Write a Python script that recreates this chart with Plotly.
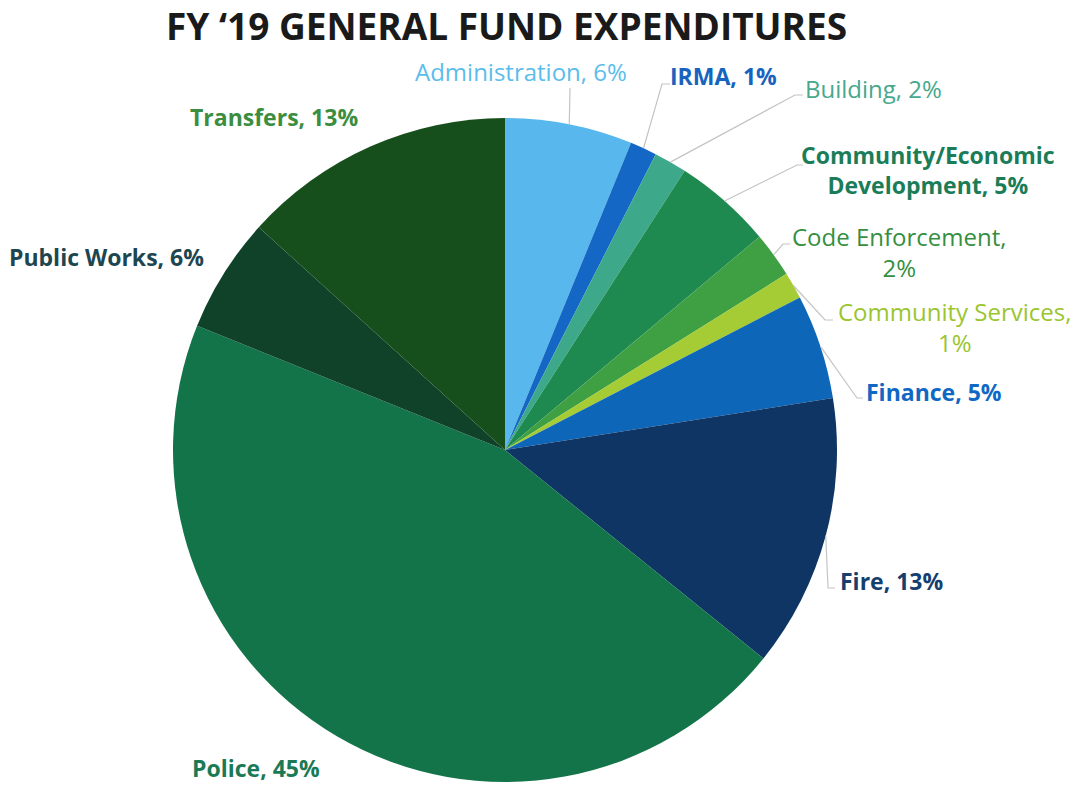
import math
import plotly.graph_objects as go

W, H = 1081, 785

# Expenditure shares by department, clockwise from 12 o'clock
categories = ["Administration", "IRMA", "Building", "Community/Economic Development",
              "Code Enforcement", "Community Services", "Finance", "Fire", "Police",
              "Public Works", "Transfers"]
values = [6.2, 1.3, 1.6, 4.8, 2.2, 1.3, 5.1, 13.3, 45.3, 5.6, 13.3]

slice_colors = ["#58B7EC", "#1467C5", "#3DA88A", "#1F8A50", "#3FA043", "#A5CB35",
                "#0D66B8", "#0E3563", "#137449", "#0F4229", "#174F1C"]
label_colors = ["#5BBDEB", "#1763C0", "#47A88E", "#1B7D58", "#358F3F", "#9AC531",
                "#1068C4", "#163E6E", "#1A7A55", "#1E4650", "#3A8E3E"]

title_text = "FY \u201819 GENERAL FUND EXPENDITURES"

# Pie geometry in pixels
CX, CY, R = 505, 450, 332

# Label placement: centre (px), bold, leader-line elbow and end (px) or None
label_layout = {
    "Administration": dict(pos=(521, 72), bold=False, leader=[(570, 88)]),
    "IRMA": dict(pos=(723, 76), bold=True, leader=[(662, 84), (670, 84)]),
    "Building": dict(pos=(874, 89), bold=False, leader=[(795, 95), (803, 95)]),
    "Community/Economic Development": dict(pos=(928, 170), bold=True,
                                           leader=[(797, 165), (803, 165)]),
    "Code Enforcement": dict(pos=(899, 252), bold=False, leader=[(783, 244), (790, 244)]),
    "Community Services": dict(pos=(954, 327), bold=False, leader=[(825, 320), (833, 320)]),
    "Finance": dict(pos=(934, 392), bold=True, leader=[(857, 398), (863, 398)]),
    "Fire": dict(pos=(892, 581), bold=True, leader=[(828, 588), (835, 588)]),
    "Police": dict(pos=(256, 768), bold=True, leader=None),
    "Public Works": dict(pos=(106, 257), bold=True, leader=None),
    "Transfers": dict(pos=(274, 117), bold=True, leader=None),
}

label_fmt = {
    "Community/Economic Development": "Community/Economic<br>Development, {p}%",
    "Code Enforcement": "Code Enforcement,<br>{p}%",
    "Community Services": "Community Services,<br>{p}%",
}


def px(x):
    return x / W


def py(y):
    return 1 - y / H


fig = go.Figure(go.Pie(
    labels=categories,
    values=values,
    sort=False,
    direction="clockwise",
    rotation=0,
    marker=dict(colors=slice_colors, line=dict(width=0)),
    textinfo="none",
    hoverinfo="label+percent",
    showlegend=False,
    domain=dict(x=[px(CX - R), px(CX + R)], y=[py(CY + R), py(CY - R)]),
))

total = sum(values)
cum = 0.0
annotations = []
shapes = []
for name, v, col in zip(categories, values, label_colors):
    mid = (cum + v / 2) / total * 2 * math.pi
    cum += v
    pct = round(100 * v / total)
    text = label_fmt.get(name, name + ", {p}%").format(p=pct)
    lay = label_layout[name]
    x, y = lay["pos"]
    weight = 700 if lay["bold"] else 400
    size = 23 if lay["bold"] else 24
    annotations.append(dict(
        x=px(x), y=py(y), xref="paper", yref="paper", text=text, showarrow=False,
        xanchor="center", yanchor="middle", align="center",
        font=dict(family="Open Sans", size=size, color=col, weight=weight),
    ))
    if lay["leader"]:
        sx = CX + R * math.sin(mid)
        sy = CY - R * math.cos(mid)
        pts = [(sx, sy)] + lay["leader"]
        path = "M " + " L ".join(f"{px(a):.5f},{py(b):.5f}" for a, b in pts)
        shapes.append(dict(type="path", xref="paper", yref="paper", path=path,
                           line=dict(color="#C4C4C4", width=1.2)))

annotations.append(dict(
    x=px(506), y=py(26), xref="paper", yref="paper", text=title_text, showarrow=False,
    xanchor="center", yanchor="middle",
    font=dict(family="Open Sans", size=37, color="#1A1A1A", weight=700),
))

fig.update_layout(
    width=W, height=H,
    margin=dict(l=0, r=0, t=0, b=0),
    paper_bgcolor="white", plot_bgcolor="white",
    annotations=annotations,
    shapes=shapes,
)

fig.write_html("out.html")
